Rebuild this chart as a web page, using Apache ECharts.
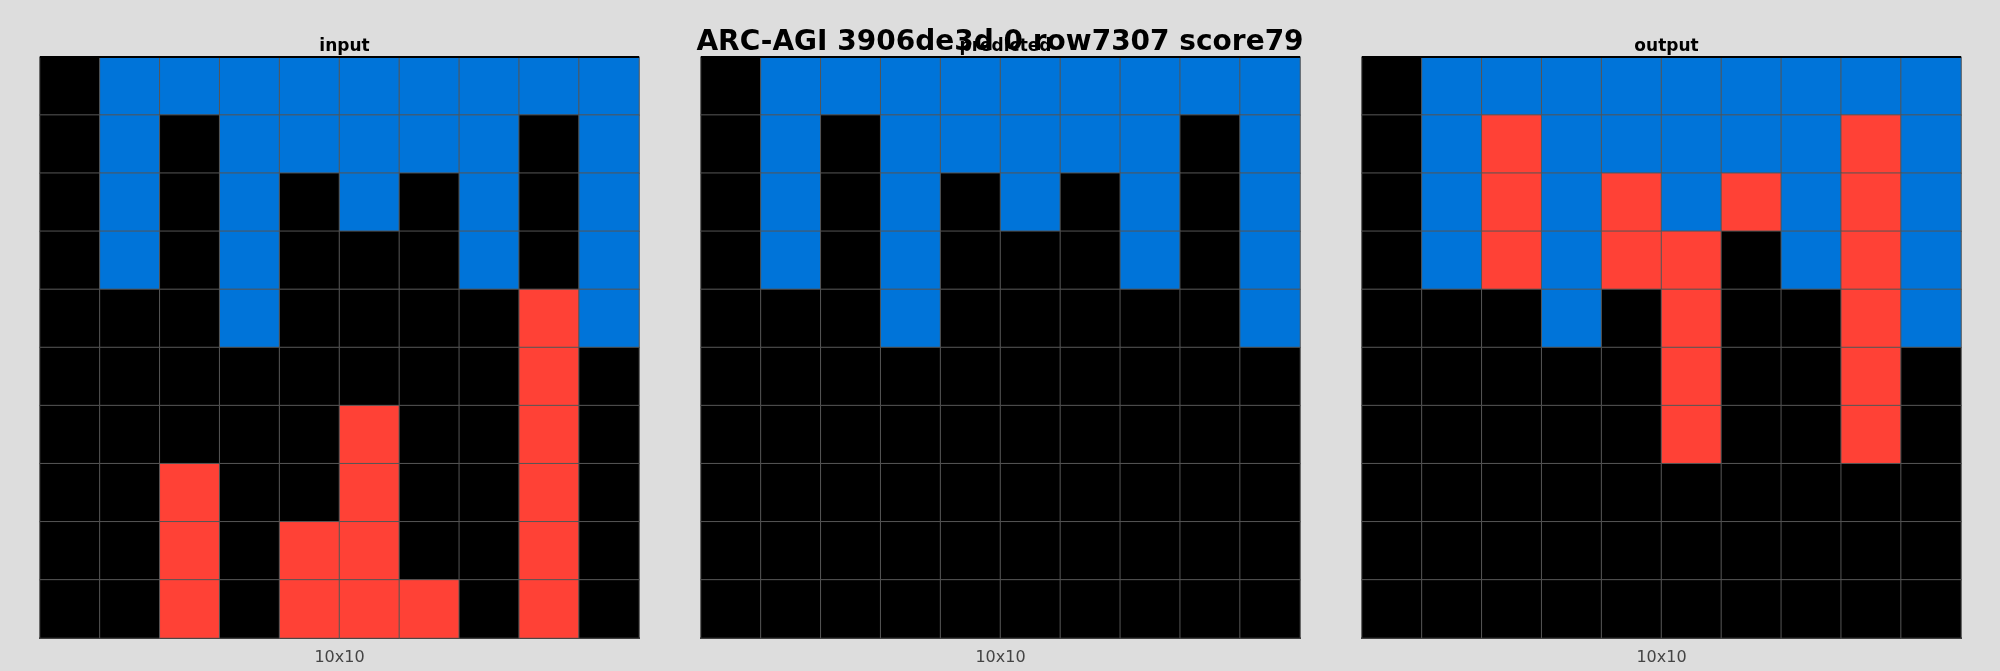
<!DOCTYPE html>
<html><head><meta charset="utf-8">
<script src="https://cdn.jsdelivr.net/npm/echarts@6/dist/echarts.min.js"></script>
<style>html,body{margin:0;padding:0;background:#dddddd}#c{width:2000px;height:671px}</style>
</head><body><div id="c"></div>
<script>
var palette = ['#000000', '#0074D9', '#FF4136'];
var panelTitles = ['input', 'predicted', 'output'];
var sizeLabel = '10x10';
var inputGrid = [
  [0,1,1,1,1,1,1,1,1,1],
  [0,1,0,1,1,1,1,1,0,1],
  [0,1,0,1,0,1,0,1,0,1],
  [0,1,0,1,0,0,0,1,0,1],
  [0,0,0,1,0,0,0,0,2,1],
  [0,0,0,0,0,0,0,0,2,0],
  [0,0,0,0,0,2,0,0,2,0],
  [0,0,2,0,0,2,0,0,2,0],
  [0,0,2,0,2,2,0,0,2,0],
  [0,0,2,0,2,2,2,0,2,0]
];
var predictedGrid = [
  [0,1,1,1,1,1,1,1,1,1],
  [0,1,0,1,1,1,1,1,0,1],
  [0,1,0,1,0,1,0,1,0,1],
  [0,1,0,1,0,0,0,1,0,1],
  [0,0,0,1,0,0,0,0,0,1],
  [0,0,0,0,0,0,0,0,0,0],
  [0,0,0,0,0,0,0,0,0,0],
  [0,0,0,0,0,0,0,0,0,0],
  [0,0,0,0,0,0,0,0,0,0],
  [0,0,0,0,0,0,0,0,0,0]
];
var outputGrid = [
  [0,1,1,1,1,1,1,1,1,1],
  [0,1,2,1,1,1,1,1,2,1],
  [0,1,2,1,2,1,2,1,2,1],
  [0,1,2,1,2,2,0,1,2,1],
  [0,0,0,1,0,2,0,0,2,1],
  [0,0,0,0,0,2,0,0,2,0],
  [0,0,0,0,0,2,0,0,2,0],
  [0,0,0,0,0,0,0,0,0,0],
  [0,0,0,0,0,0,0,0,0,0],
  [0,0,0,0,0,0,0,0,0,0]
];
var grids = [inputGrid, predictedGrid, outputGrid];
var lefts = [40, 701, 1362];
var idx = [0,1,2,3,4,5,6,7,8,9];

var chart = echarts.init(document.getElementById('c'));
var opt = {
  animation: false,
  backgroundColor: '#dddddd',
  title: [{
    text: 'ARC-AGI 3906de3d 0 row7307 score79', left: 'center', top: 24,
    textStyle: { fontFamily: 'DejaVu Sans', fontWeight: 'bold', fontSize: 28, color: '#000' }
  }],
  grid: [], xAxis: [], yAxis: [], series: []
};
grids.forEach(function(g, k) {
  opt.title.push({
    text: panelTitles[k], left: lefts[k] + 299.5, top: 33, textAlign: 'center',
    textStyle: { fontFamily: 'DejaVu Sans', fontWeight: 'bold', fontSize: 17, color: '#000' }
  });
  opt.grid.push({ left: lefts[k], top: 57, width: 599, height: 599 });
  opt.xAxis.push({
    type: 'category', gridIndex: k, data: idx, name: sizeLabel, nameLocation: 'middle', nameGap: 12,
    nameTextStyle: { fontFamily: 'DejaVu Sans', fontSize: 16, color: '#444' },
    axisLabel: { show: false }, axisTick: { show: false },
    axisLine: { show: true, lineStyle: { color: '#000', width: 2 } }, splitLine: { show: false }
  });
  opt.yAxis.push({
    type: 'category', gridIndex: k, data: idx, inverse: true,
    axisLabel: { show: false }, axisTick: { show: false }, axisLine: { show: false }, splitLine: { show: false }
  });
  var data = [];
  g.forEach(function(row, r) {
    row.forEach(function(v, c) {
      data.push({ value: [c, r, v], itemStyle: { color: palette[v] } });
    });
  });
  opt.series.push({
    type: 'heatmap', xAxisIndex: k, yAxisIndex: k, data: data,
    itemStyle: { borderColor: '#555555', borderWidth: 1 }
  });
});
// top border line
opt.graphic = lefts.map(function(l) {
  return { type: 'rect', shape: { x: l, y: 56, width: 599, height: 2 }, style: { fill: '#000' }, z: 100 };
});
chart.setOption(opt);
</script></body></html>
